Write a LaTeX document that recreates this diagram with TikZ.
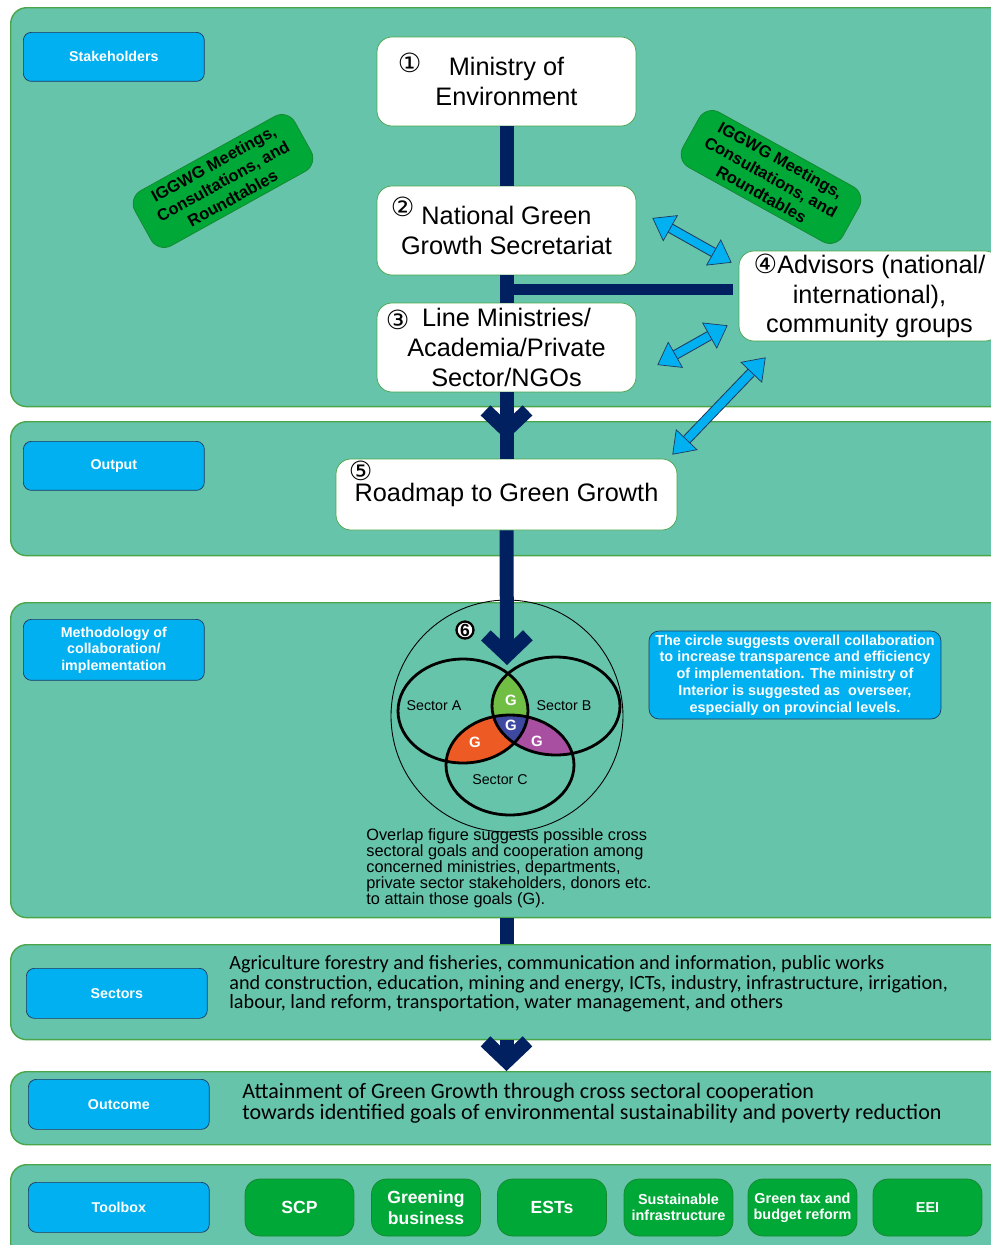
\documentclass[tikz,border=0pt]{standalone}
\usepackage{fontspec}
\setmainfont{Liberation Sans}
\newfontfamily\calfont{Carlito}
\newfontfamily\numfont{DejaVu Sans}
\usetikzlibrary{arrows.meta,calc,decorations.markings}

\definecolor{bandfill}{HTML}{66C4AA}
\definecolor{bandline}{HTML}{4AA54A}
\definecolor{tagblue}{HTML}{00B0F0}
\definecolor{tagline}{HTML}{1F3A5F}
\definecolor{spinenavy}{HTML}{002060}
\definecolor{toolgreen}{HTML}{00A838}
\definecolor{toolline}{HTML}{17862F}
\definecolor{gab}{HTML}{70BF44}
\definecolor{gac}{HTML}{EE5A24}
\definecolor{gbc}{HTML}{A94FA2}
\definecolor{gabc}{HTML}{3F48A0}

\tikzset{
  band/.style={draw=bandline, fill=bandfill, line width=0.8pt, rounded corners=0.32cm,
    inner sep=0pt, anchor=north west, minimum width=20cm},
  tag/.style={draw=tagline, fill=tagblue, text=white, rounded corners=0.16cm,
    minimum width=3.62cm, minimum height=0.98cm, align=center, inner sep=0pt,
    font=\bfseries\fontsize{8.1}{9.4}\selectfont, anchor=north west},
  box/.style={draw=bandline, fill=white, rounded corners=0.3cm, minimum width=5.18cm,
    minimum height=1.78cm, align=center, inner sep=0pt, font=\fontsize{14.4}{17}\selectfont},
  num/.style={font=\numfont\fontsize{15}{15}\selectfont, inner sep=0pt},
  meet/.style={draw=toolline, fill=toolgreen, rounded corners=0.3cm, minimum width=3.66cm,
    minimum height=1.26cm, align=center, inner sep=0pt, font=\bfseries\fontsize{9.4}{11.2}\selectfont},
  note/.style={draw=tagline, fill=tagblue, text=white, rounded corners=0.2cm, minimum width=5.84cm,
    minimum height=1.76cm, align=center, inner sep=0pt, font=\bfseries\fontsize{8.2}{9.6}\selectfont},
  tool/.style={draw=toolline, fill=toolgreen, text=white, rounded corners=0.3cm, minimum width=2.18cm,
    minimum height=1.14cm, align=center, inner sep=0pt},
  toolbig/.style={font=\bfseries\fontsize{10}{11.9}\selectfont},
  toolsmall/.style={font=\bfseries\fontsize{8.2}{9.1}\selectfont},
  spine/.style={color=spinenavy, line width=0.28cm},
  chev/.style={-{Straight Barb[length=0.4cm, width=0.84cm]}},
  chevron/.style={postaction={decorate, decoration={markings,
    mark=at position #1 with {\arrow{Straight Barb[length=0.4cm, width=0.84cm]}}}}},
  biarrow/.style={draw=tagblue, line width=0.16cm,
    {Triangle[length=0.42cm, width=0.6cm, fill=tagblue, color=tagline, line width=0.4pt]}-{Triangle[length=0.42cm, width=0.6cm, fill=tagblue, color=tagline, line width=0.4pt]},
    preaction={draw=tagline, line width=0.2cm, -, shorten >=0.36cm, shorten <=0.36cm}},
  sector/.style={draw=black, line width=1.6pt},
  seclabel/.style={font=\fontsize{8.1}{9}\selectfont, inner sep=0pt},
  glabel/.style={text=white, font=\bfseries\fontsize{8.5}{9}\selectfont, inner sep=0pt},
}

\begin{document}
\begin{tikzpicture}[x=0.02cm, y=-0.02cm]
  \path[use as bounding box, clip] (0,0) rectangle (991,1245);

  % bands
  \node[band, minimum height=7.98cm] (stakeband) at (10,7) {};
  \node[band, minimum height=2.68cm] (outputband) at (10,421) {};
  \node[band, minimum height=6.3cm] (methband) at (10,602) {};
  \node[band, minimum height=1.9cm] (sectband) at (10,944) {};
  \node[band, minimum height=1.46cm] (outcomeband) at (10,1071) {};
  \node[band, minimum height=2.2cm] (toolband) at (10,1164) {};

  % row tags
  \node[tag] (staketag) at (23,32) {Stakeholders};
  \node[tag] (outputtag) at (23,441) {Output};
  \node[tag, minimum height=1.22cm] (methtag) at (23,619) {Methodology of\\collaboration/\\implementation};
  \node[tag, minimum height=1.0cm] (secttag) at (26,968) {Sectors};
  \node[tag, minimum height=1.0cm] (outcometag) at (28,1079) {Outcome};
  \node[tag, minimum height=1.0cm] (tooltag) at (28,1182) {Toolbox};

  % stakeholders
  \node[box] (min) at (506.5,81.5) {Ministry of\\Environment};
  \node[box] (ngs) at (506.5,230.5) {National Green\\Growth Secretariat};
  \node[box] (lm) at (506.5,347.5) {Line Ministries/\\Academia/Private\\Sector/NGOs};
  \node[box, minimum width=5.22cm, minimum height=1.8cm] (adv) at (869.5,296)
    {{\numfont\fontsize{15}{15}\selectfont ④}Advisors (national/\\international),\\community groups};
  \node[box, minimum width=6.82cm, minimum height=1.42cm] (rm) at (506.5,494.5) {Roadmap to Green Growth};

  \node[num] (n1) at ([shift={(33,26)}]min.north west) {①};
  \node[num] (n2) at ([shift={(26,21)}]ngs.north west) {②};
  \node[num] (n3) at ([shift={(21,17)}]lm.north west) {③};
  \node[num] (n5) at ([shift={(25,12)}]rm.north west) {⑤};

  \node[meet, rotate=29] (meetl) at (223,181) {IGGWG Meetings,\\Consultations, and\\Roundtables};
  \node[meet, rotate=-29] (meetr) at (771,177) {IGGWG Meetings,\\Consultations, and\\Roundtables};

  % spine
  \draw[spine] (min.south) -- (ngs.north);
  \draw[spine] (ngs.south) -- (lm.north);
  \coordinate (jn) at ($(ngs.south)!0.5!(lm.north)$);
  \coordinate (jnend) at (jn -| adv.west);
  \draw[spine, line width=0.22cm] (jn) -- ([shift={(-6,0)}]jnend);
  \draw[spine, chevron=0.72] (lm.south) -- (rm.north);

  \draw[biarrow] ([shift={(16,-12.5)}]ngs.east) -- ([shift={(-7,12)}]adv.north west);
  \draw[biarrow] ([shift={(21,17.5)}]lm.east) -- ([shift={(-11,-16)}]adv.south west);
  \draw[biarrow] ([shift={(-5,-4)}]rm.north east) -- ([shift={(27,16)}]adv.south west);

  % overlap figure
  \draw[line width=0.5pt] (507,716) circle (2.32cm);
  \begin{scope}
    \clip (463,711) ellipse [x radius=1.3cm, y radius=1.04cm];
    \fill[gab] (556,706) ellipse [x radius=1.28cm, y radius=0.98cm];
    \fill[gac] (510,765) ellipse [x radius=1.28cm, y radius=1.0cm];
  \end{scope}
  \begin{scope}
    \clip (556,706) ellipse [x radius=1.28cm, y radius=0.98cm];
    \fill[gbc] (510,765) ellipse [x radius=1.28cm, y radius=1.0cm];
  \end{scope}
  \begin{scope}
    \clip (463,711) ellipse [x radius=1.3cm, y radius=1.04cm];
    \clip (556,706) ellipse [x radius=1.28cm, y radius=0.98cm];
    \fill[gabc] (510,765) ellipse [x radius=1.28cm, y radius=1.0cm];
  \end{scope}
  \draw[sector] (463,711) ellipse [x radius=1.3cm, y radius=1.04cm];
  \draw[sector] (556,706) ellipse [x radius=1.28cm, y radius=0.98cm];
  \draw[sector] (510,765) ellipse [x radius=1.28cm, y radius=1.0cm];

  \node[seclabel] (seca) at (434,706) {Sector A};
  \node[seclabel] (secb) at (564,706) {Sector B};
  \node[seclabel] (secc) at (500,780) {Sector C};
  \node[glabel] (gtop) at (511,700) {G};
  \node[glabel] (gmid) at (511,725) {G};
  \node[glabel] (gleft) at (475,742) {G};
  \node[glabel] (gright) at (537,741) {G};

  \coordinate (venntip) at (507,665);
  \draw[spine, chev] (rm.south) -- (venntip);
  \node[circle, draw, line width=1.3pt, fill=white, inner sep=0pt, minimum size=0.34cm,
    font=\bfseries\fontsize{10}{10}\selectfont] (n6) at (465,630) {6};

  \node[note] (circnote) at (795,675) {The circle suggests overall collaboration\\to increase transparence and efficiency\\of implementation. The ministry of\\Interior is suggested as\ \ overseer,\\especially on provincial levels.};
  \node[anchor=north west, align=left, inner sep=0pt, font=\fontsize{9.3}{9.1}\selectfont] (vcap) at (366,828)
    {Overlap figure suggests possible cross\\sectoral goals and cooperation among\\concerned ministries, departments,\\private sector stakeholders, donors etc.\\to attain those goals (G).};

  % lower rows
  \draw[spine] (rm.south |- methband.south) -- (rm.south |- sectband.north);
  \draw[spine, chev] (rm.south |- sectband.south) -- (rm.south |- outcomeband.north);

  \node[anchor=west, align=left, inner sep=0pt, font=\calfont\fontsize{11.5}{11.1}\selectfont] (secttext) at (229,984)
    {Agriculture forestry and fisheries, communication and information, public works\\and construction, education, mining and energy, ICTs, industry, infrastructure, irrigation,\\labour, land reform, transportation, water management, and others};
  \node[anchor=west, align=left, inner sep=0pt, font=\calfont\fontsize{12.55}{11.9}\selectfont] (outcometext) at (242,1103)
    {Attainment of Green Growth through cross sectoral cooperation\\towards identified goals of environmental sustainability and poverty reduction};

  \node[tool, toolbig] (scp) at (299.5,1207.5) {SCP};
  \node[tool, toolbig] (greening) at (426,1207.5) {Greening\\business};
  \node[tool, toolbig] (ests) at (552,1207.5) {ESTs};
  \node[tool, toolsmall] (infra) at (678.5,1207.5) {Sustainable\\infrastructure};
  \node[tool, toolsmall] (greentax) at (802.5,1207.5) {Green tax and\\budget reform};
  \node[tool, toolsmall] (eei) at (927.5,1207.5) {EEI};
\end{tikzpicture}
\end{document}
